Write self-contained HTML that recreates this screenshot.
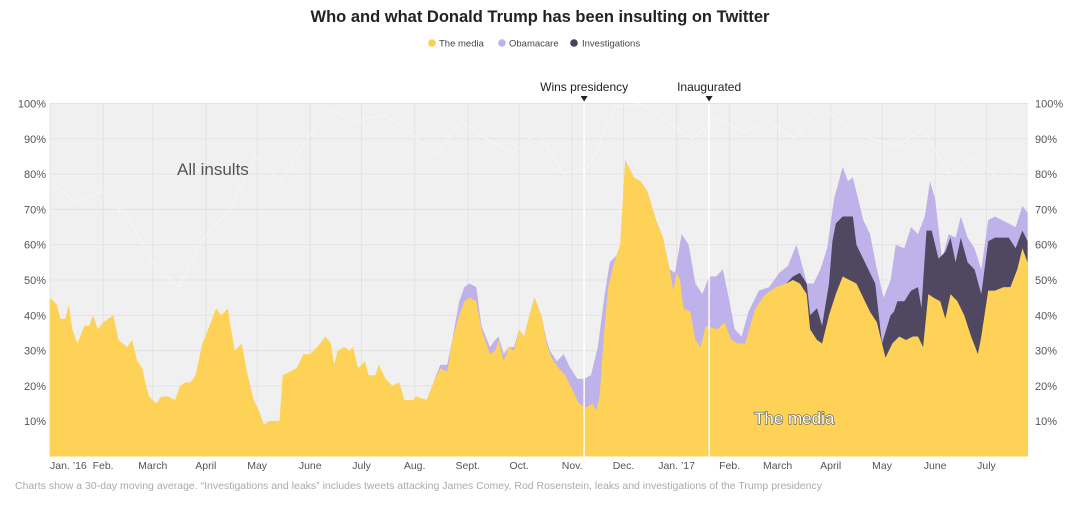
<!DOCTYPE html>
<html><head><meta charset="utf-8">
<style>
html,body{margin:0;padding:0;background:#fff;}
body{width:1075px;height:500px;overflow:hidden;font-family:"Liberation Sans",sans-serif;}
svg text{font-family:"Liberation Sans",sans-serif;}
</style></head>
<body>
<svg id="chart" width="1075" height="500" viewBox="0 0 1075 500">
  <text x="540" y="22" text-anchor="middle" font-size="16.5" font-weight="bold" fill="#222">Who and what Donald Trump has been insulting on Twitter</text>
  <g>
    <g><circle cx="432" cy="43" r="3.8" fill="#fdce4e"/><text x="439" y="46.5" font-size="9.5" fill="#444">The media</text></g>
    <g><circle cx="502" cy="43" r="3.8" fill="#bfb1ea"/><text x="509" y="46.5" font-size="9.5" fill="#444">Obamacare</text></g>
    <g><circle cx="574" cy="43" r="3.8" fill="#4a4358"/><text x="582" y="46.5" font-size="9.5" fill="#444">Investigations</text></g>
  </g>
  <g id="plot"></g>
  <text x="15" y="489" font-size="10.5" fill="#aaa">Charts show a 30-day moving average. “Investigations and leaks” includes tweets attacking James Comey, Rod Rosenstein, leaks and investigations of the Trump presidency</text>
</svg>
<script>
// x: days since Jan 1 2016
const mediaDays=[0,4,6,9,11,13,16,20,23,25,28,31,37,40,45,48,51,54,56,58,62,65,69,73,76,79,82,85,89,94,97,100,104,105,108,112,115,119,122,125,128,132,134,136,140,144,148,152,156,161,164,166,168,172,175,177,180,184,186,190,192,196,200,204,207,212,214,220,224,228,232,235,239,242,245,249,252,257,260,262,265,268,271,274,277,280,283,287,290,293,297,301,305,309,313,317,319,321,323,326,329,333,336,338,341,345,349,354,358,362,364,366,368,370,374,377,380,383,390,394,398,402,406,412,418,424,430,434,438,442,444,448,451,455,459,463,467,471,475,479,483,488,492,496,500,504,507,510,513,516,520,523,526,530,534,538,542,544,548,552,557,561,565,568,571];
const mediaVals=[45,43,39,39,43,36,32,37,37,40,36,38,40,33,31,33,27,25,20,17,15,17,17,16,20,21,21,23,32,38,42,40,42,38,30,32,24,16,13,9,10,10,10,23,24,25,29,29,31,34,32,26,30,31,30,31,25,27,23,23,26,22,20,21,16,16,17,16,21,25,24,33,40,44,45,44,36,29,30,33,27,31,30,36,34,40,45,40,32,28,25,23,19,15,14,15,13,17,31,48,54,60,84,82,79,78,75,67,62,53,47,52,50,42,41,33,31,37,36,38,33,32,32,42,46,48,49,50,49,46,36,33,32,40,46,51,50,49,45,41,38,28,32,34,33,34,34,31,46,45,44,39,46,44,40,34,29,34,47,47,48,48,53,59,55];
const invDays=[428,430,434,438,442,444,448,451,455,457,459,463,469,471,475,479,482,486,491,493,495,499,503,507,509,512,515,519,523,526,529,532,536,540,544,548,552,556,560,564,568,571];
const invVals=[0,49,51,52,49,40,42,37,49,61,66,68,68,60,56,52,49,32,40,41,44,44,47,48,42,64,64,56,58,62,55,62,55,53,46,61,62,62,62,59,64,61];
const obamaDays=[222,224,228,232,235,239,242,245,249,252,257,260,262,265,268,271,274,277,280,283,287,290,292,296,300,304,308,312,316,320,324,327,331,334,336,338,341,345,349,354,358,362,365,369,373,377,381,385,389,393,396,400,404,408,414,420,426,431,436,440,442,446,450,454,458,463,466,469,472,475,479,483,487,491,494,499,503,507,511,514,517,521,525,529,532,536,540,544,548,552,560,564,568,571];
const obamaVals=[0,21,26,26,33,44,48,49,48,37,31,33,34,29,31,31,36,34,40,45,40,33,30,27,29,25,22,22,23,31,46,55,57,61,84,82,79,78,75,67,62,53,52,63,60,49,46,51,51,53,46,36,34,41,47,48,52,54,60,53,49,49,53,59,73,82,78,79,73,67,63,53,45,50,60,59,65,63,68,78,73,56,63,62,68,62,59,53,67,68,66,65,71,69];
const allDays=[0,15,30,45,60,75,90,105,120,135,150,165,180,195,210,225,240,255,270,285,300,315,330,345,360,375,390,405,420,435,450,465,480,495,510,525,540,555,571];
const allVals=[78,72,75,68,55,48,62,70,85,78,90,98,95,97,92,85,95,90,86,92,80,82,99,100,95,90,96,92,95,90,99,94,90,88,93,80,85,78,82];
const yTicks=[10,20,30,40,50,60,70,80,90,100];
const monthDays=[0,31,60,91,121,152,182,213,244,274,305,335,366,397,425,456,486,517,547];
const monthLabels=["Jan. ’16","Feb.","March","April","May","June","July","Aug.","Sept.","Oct.","Nov.","Dec.","Jan. ’17","Feb.","March","April","May","June","July"];
const eventDays=[312,385];
const eventLabels=["Wins presidency","Inaugurated"];

const L=50,R=1028,T=103.5,B=456.5;
const x=d=>L+d*1.712;
const y=v=>B-(B-T)*v/100;
const NS="http://www.w3.org/2000/svg";
const plot=document.getElementById('plot');
function mk(tag,attrs,parent){const e=document.createElementNS(NS,tag);for(const k in attrs)e.setAttribute(k,attrs[k]);(parent||plot).appendChild(e);return e;}

const bg=mk('rect',{x:L,y:T,width:R-L,height:B-T,fill:'#f0f0f0'});


const clip=mk('clipPath',{id:'pc'});mk('rect',{x:L,y:T,width:R-L,height:B-T},clip);

yTicks.forEach(v=>{
  const g=mk('line',{x1:L,x2:R,y1:y(v),y2:y(v),stroke:'#e3e3e3','stroke-width':1});
  
  
});
monthDays.forEach(d=>{
  const g=mk('line',{x1:x(d),x2:x(d),y1:T,y2:B,stroke:'#e3e3e3','stroke-width':1});
  
  
});
// all insults faint line
let ap=allDays.map((d,i)=>(i?'L':'M')+x(d).toFixed(1)+','+y(allVals[i]).toFixed(1)).join('');
const al=mk('path',{d:ap,fill:'none',stroke:'#f6f6f6','stroke-width':1,'clip-path':'url(#pc)'});



function area(days,vals,color,name){
  let p='M'+x(days[0]).toFixed(1)+','+B;
  days.forEach((d,i)=>{p+='L'+x(d).toFixed(1)+','+y(vals[i]).toFixed(1);});
  p+='L'+x(days[days.length-1]).toFixed(1)+','+B+'Z';
  const e=mk('path',{d:p,fill:color,'clip-path':'url(#pc)'});
  
  
}
area(obamaDays,obamaVals,'#bfb1ea','obamacare-area');
area(invDays,invVals,'#4f4860','investigations-area');
area(mediaDays,mediaVals,'#fdd256','media-area');

eventDays.forEach((d,i)=>{
  const ln=mk('line',{x1:x(d),x2:x(d),y1:T,y2:B,stroke:'#fff','stroke-width':1.5});
  
  
  const t=mk('text',{x:x(d),y:91,'text-anchor':'middle','font-size':12,fill:'#222'});
  t.textContent=eventLabels[i];
  
  
  const m=mk('path',{d:`M${x(d)-3.5},96L${x(d)+3.5},96L${x(d)},101.5Z`,fill:'#222'});
  
  
});

yTicks.forEach(v=>{
  const a=mk('text',{x:46,y:y(v)+4,'text-anchor':'end','font-size':11,fill:'#555'});
  a.textContent=v+'%';
  
  
  const b=mk('text',{x:1035,y:y(v)+4,'font-size':11,fill:'#555'});
  b.textContent=v+'%';
  
  
});
monthDays.forEach((d,i)=>{
  const t=mk('text',{x:x(d),y:469,'text-anchor':i===0?'start':'middle','font-size':10.5,fill:'#555'});
  t.textContent=monthLabels[i];
  
  
});

const a1=mk('text',{x:177,y:175,'font-size':17,fill:'#555'});
a1.textContent='All insults';


const a2=mk('text',{x:754,y:424,'font-size':17,fill:'#fff',stroke:'#555','stroke-width':1.2,'paint-order':'stroke'});
a2.textContent='The media';


</script>
</body></html>
